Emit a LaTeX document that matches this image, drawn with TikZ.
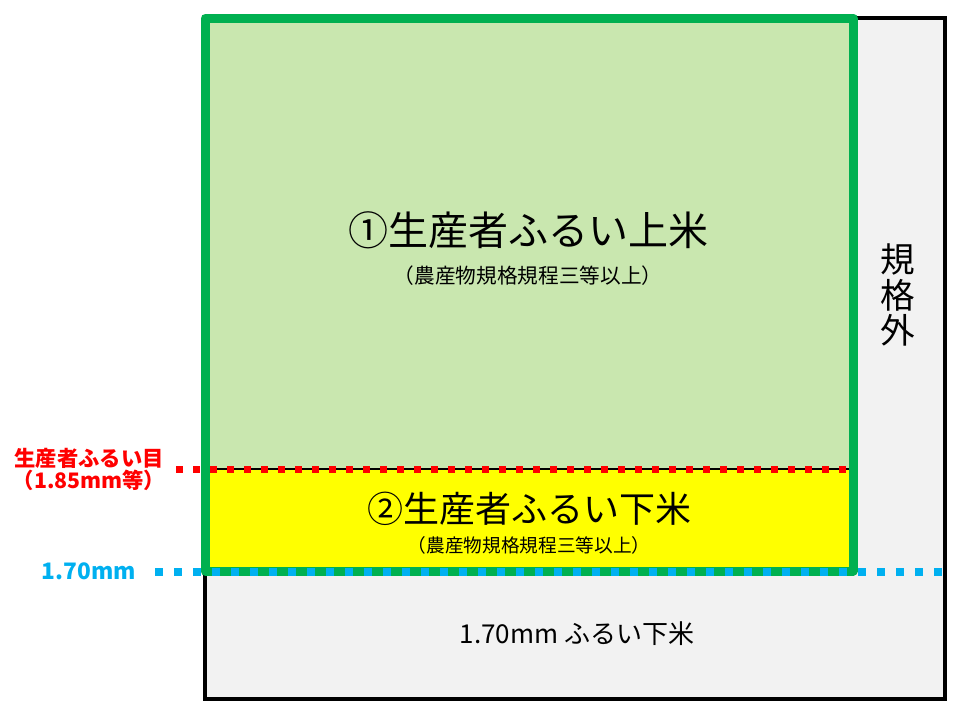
\documentclass[tikz,border=0pt]{standalone}
\usepackage{fontspec}
\setmainfont{Noto Sans CJK JP}
\usepackage{tikz}
\usetikzlibrary{calc}
\tikzset{>=latex}
\definecolor{mygreen}{RGB}{0,176,80}
\definecolor{mylightgreen}{RGB}{201,231,175}
\definecolor{mygray}{RGB}{242,242,242}
\definecolor{myblue}{RGB}{0,176,240}
\definecolor{myred}{RGB}{255,0,0}
\definecolor{myyellow}{RGB}{255,255,0}
\begin{document}
\begin{tikzpicture}[x=0.75pt, y=-0.75pt]
\useasboundingbox (0,0) rectangle (960,711);
\draw[line width=3pt, fill=mygray] (205,18) rectangle (945,699);
\fill[mylightgreen] (205,18) rectangle (853,571);
\draw[line width=1.5pt, fill=myyellow] (205,469) rectangle (853,571);
\draw[draw=mygreen, line width=6.75pt, line join=round] (205,18) rectangle (853,571);
\draw[draw=myred, line width=5.25pt, dash pattern=on 5.25pt off 7.5pt] (176,469) -- (848,469);
\draw[draw=myblue, line width=6pt, dash pattern=on 6pt off 8.25pt] (155,572) -- (946,572);
\node[font={\fontsize{30pt}{36pt}\selectfont}] (upper) at (528,230) {①生産者ふるい上米};
\node[font={\fontsize{15.5pt}{18pt}\selectfont}] (uppersub) at (528,276) {（農産物規格規程三等以上）};
\node[font={\fontsize{27pt}{32pt}\selectfont}] (lower) at (529,509) {②生産者ふるい下米};
\node[font={\fontsize{14pt}{16pt}\selectfont}] (lowersub) at (529,545) {（農産物規格規程三等以上）};
\node[font={\fontsize{19.5pt}{23pt}\selectfont}] (under) at (577,634) {1.70mm ふるい下米};
\node[align=center, font={\fontsize{26pt}{26.5pt}\selectfont}] (outside) at (898,295) {規\\格\\外};
\node[align=center, text=myred, font={\fontsize{16pt}{16.5pt}\selectfont\bfseries}] (sieve) at (89,469) {生産者ふるい目\\（1.85mm等）};
\node[text=myblue, font={\fontsize{17pt}{19pt}\selectfont\bfseries}] (cutoff) at (89,571) {1.70mm};
\end{tikzpicture}
\end{document}
